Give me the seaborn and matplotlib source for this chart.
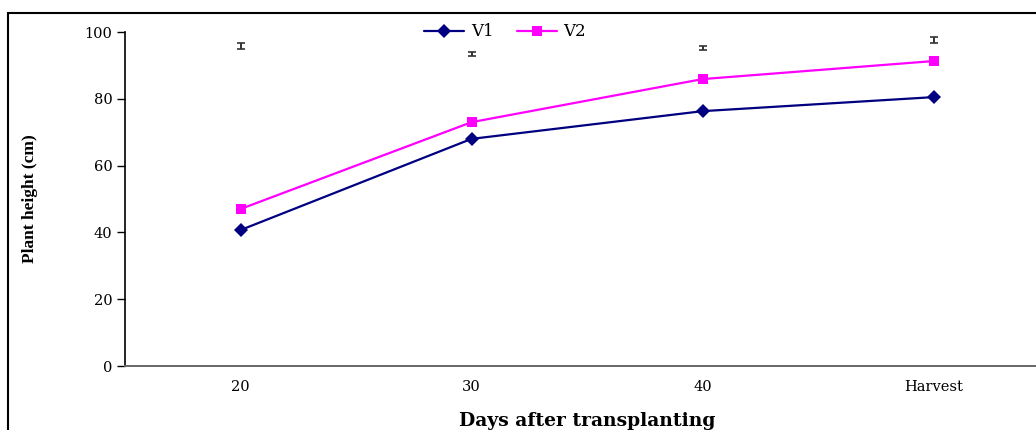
import numpy as np
import matplotlib
matplotlib.use("Agg")
import matplotlib.pyplot as plt
import matplotlib.ticker as mticker
from matplotlib.patches import Rectangle
import seaborn as sns
import pandas as pd

DAYS = ["20", "30", "40", "Harvest"]
V1 = [40.7, 68.0, 76.3, 80.5]
V2 = [47.0, 73.0, 85.9, 91.3]
LSD_CENTER = [95.8, 93.4, 95.2, 97.6]
LSD_HALF = [0.8, 0.7, 0.7, 0.9]

COLORS = ["#000080", "#FF00FF"]

df = pd.DataFrame({
    "Days": DAYS * 2,
    "Height": V1 + V2,
    "Variety": ["V1"] * len(DAYS) + ["V2"] * len(DAYS),
})

sns.set_style("white")
plt.rcParams["font.family"] = ["DejaVu Serif"]
plt.rcParams["text.color"] = "black"
plt.rcParams["axes.labelcolor"] = "black"
plt.rcParams["xtick.color"] = "black"
plt.rcParams["ytick.color"] = "black"

fig = plt.figure(figsize=(10.36, 4.30), dpi=100)
ax = fig.add_axes([125 / 1036, 1 - 366 / 430, 924 / 1036, 334 / 430])

sns.lineplot(ax=ax, data=df, x="Days", y="Height", hue="Variety", style="Variety",
             markers=["D", "s"], dashes=False, palette=COLORS, linewidth=1.6,
             markersize=7, markeredgewidth=0, sort=False)

ax.errorbar(DAYS, LSD_CENTER, yerr=LSD_HALF, fmt="none", ecolor="#333333",
            elinewidth=1.4, capsize=3, capthick=1.2)

ax.set_xlim(-0.5, 3.5)
ax.set_ylim(0, 100)
ax.yaxis.set_major_locator(mticker.MultipleLocator(20))
ax.set_xticks(range(len(DAYS)))
ax.set_xticklabels(DAYS)
ax.xaxis.set_minor_locator(mticker.FixedLocator(np.arange(-0.5, 4.0, 1.0)))
ax.tick_params(axis="x", which="major", length=0, pad=10, labelsize=10.5)
ax.tick_params(axis="x", which="minor", length=5, width=1, color="#555555", direction="out")
ax.tick_params(axis="y", which="major", length=6, width=1, direction="out",
               labelsize=10.5, pad=3, left=True)

for s in ["top", "right"]:
    ax.spines[s].set_visible(False)
ax.spines["left"].set_color("black")
ax.spines["left"].set_linewidth(1.2)
ax.spines["bottom"].set_color("#666666")
ax.spines["bottom"].set_linewidth(1.4)

ax.set_ylabel("Plant height (cm)", fontsize=12.5, fontweight="bold",
              family=["Liberation Serif"])
ax.yaxis.set_label_coords(-0.094, 0.5)
ax.set_xlabel("Days after transplanting", fontsize=13.5, fontweight="bold", labelpad=13)

handles, labels = ax.get_legend_handles_labels()
if ax.get_legend() is not None:
    ax.get_legend().remove()
fig.legend(handles, labels, loc="center", bbox_to_anchor=(505 / 1036, 1 - 32 / 430),
           ncol=2, frameon=False, fontsize=12, handlelength=2.4, handletextpad=0.4,
           columnspacing=1.4, borderaxespad=0)

frame = Rectangle((8 / 1036, -0.2), 1.5, 1.2 - 13 / 430, transform=fig.transFigure,
                  fill=False, edgecolor="black", linewidth=1.5, clip_on=False)
fig.add_artist(frame)

fig.savefig("out.png", dpi=100)
